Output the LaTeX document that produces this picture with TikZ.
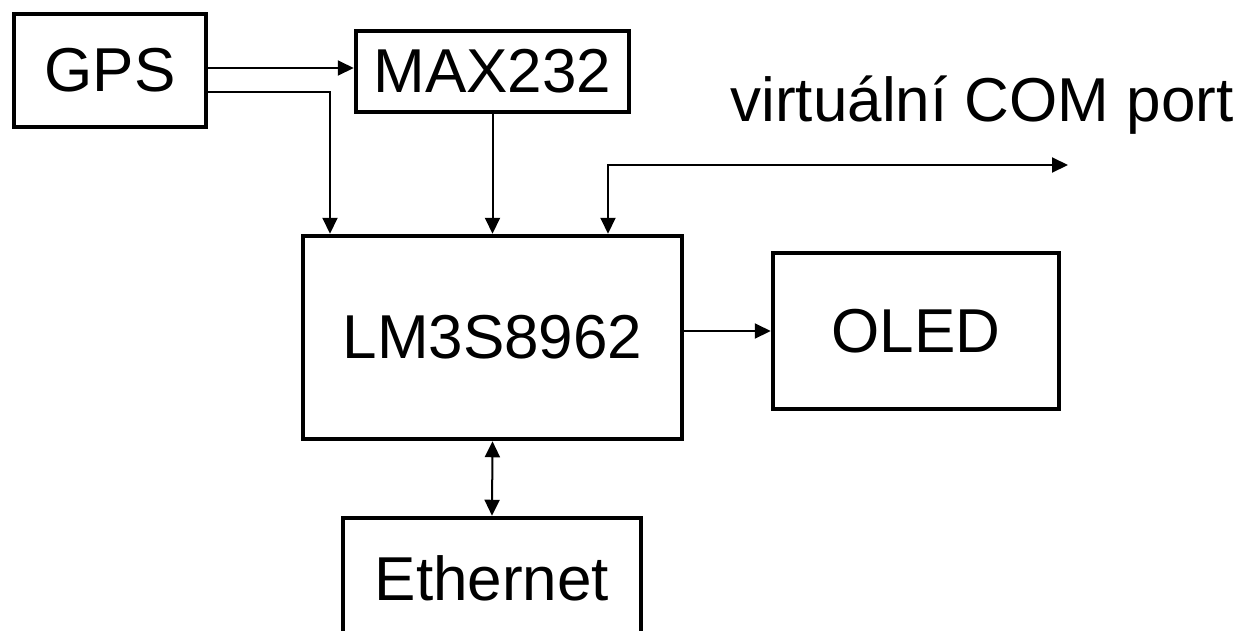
\documentclass[tikz,border=0pt]{standalone}
\usepackage{fontspec}
\setmainfont{Liberation Sans}
\usetikzlibrary{arrows.meta}
\begin{document}
\begin{tikzpicture}[x=1pt,y=-1pt,
  box/.style={draw, line width=4.5pt, inner sep=0pt, font=\fontsize{62}{70}\selectfont},
  lbl/.style={inner sep=0pt, font=\fontsize{62}{70}\selectfont},
  tip/.tip={Triangle[length=16pt,width=15pt]},
  conn/.style={line width=2pt, -tip},
  conn2/.style={line width=2pt, tip-tip},
]
\useasboundingbox (0,0) rectangle (1246,630);
\clip (0,0) rectangle (1246,630);
\node[box, minimum width=192pt, minimum height=113pt] (gps) at (110,70.5) {GPS};
\node[box, minimum width=273pt, minimum height=81pt] (max) at (492.5,71.5) {MAX232};
\node[box, minimum width=379pt, minimum height=203pt] (lm) at (492.5,337.5) {LM3S8962};
\node[box, minimum width=286pt, minimum height=156pt] (oled) at (916,331) {OLED};
\node[box, minimum width=298pt, minimum height=120pt] (eth) at (492,578) {Ethernet};
\node[lbl] (com) at (982,105) {virtuální COM port};
\coordinate (comend) at (1068,165);
\draw[conn] (gps.east |- 0,68) -- (max.west |- 0,68);
\draw[conn] (gps.east |- 0,92) -| (lm.north -| 330,0);
\draw[conn] (max.south) -- (lm.north -| max.south);
\draw[conn2] (lm.north -| 608,0) |- (comend);
\draw[conn] (lm.east |- oled.west) -- (oled.west);
\draw[conn2] (lm.south) -- (eth.north);
\end{tikzpicture}
\end{document}
